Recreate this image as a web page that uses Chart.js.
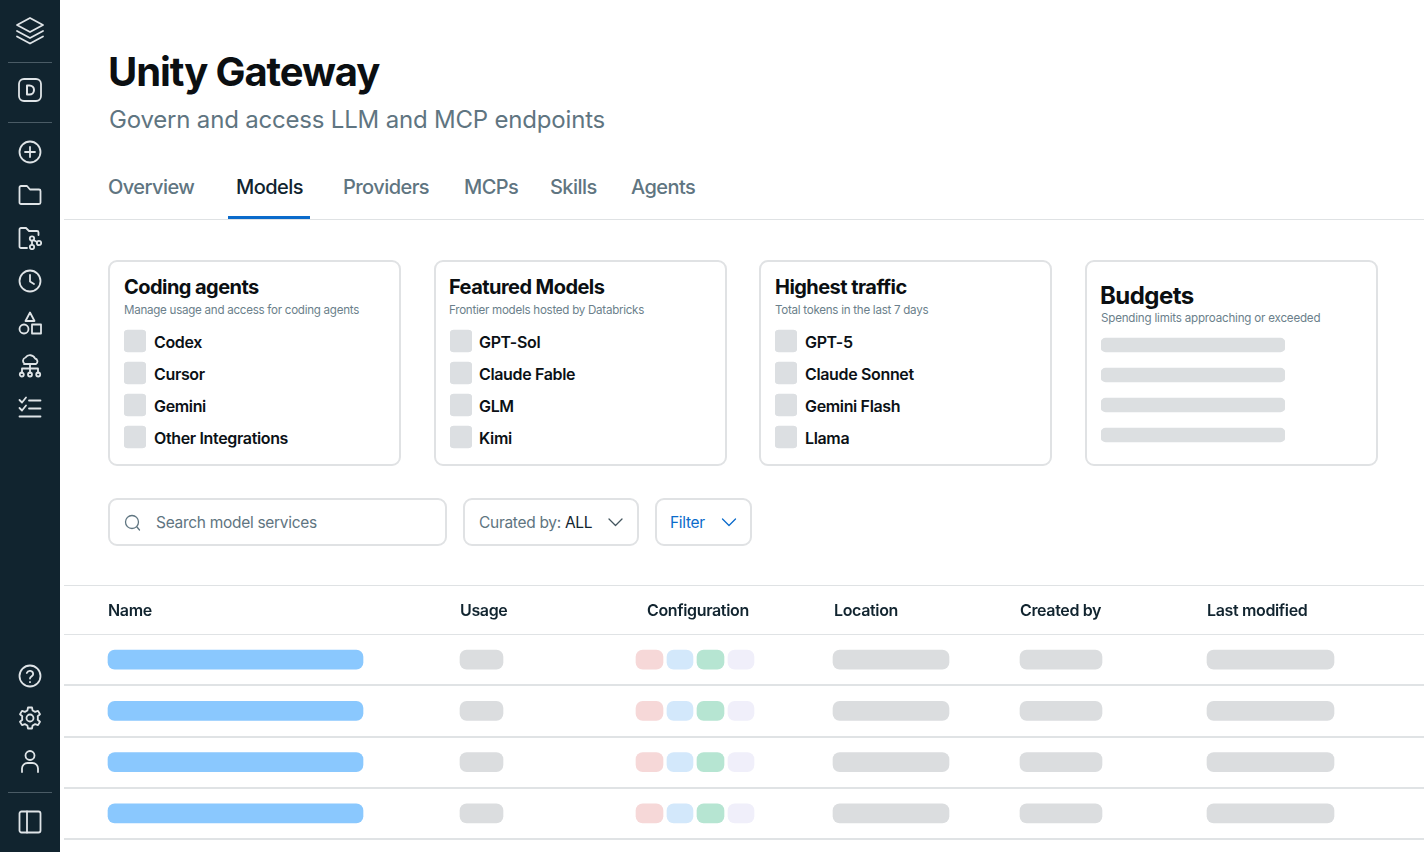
<!DOCTYPE html>
<html lang="en">
<head>
<meta charset="utf-8">
<title>Unity Gateway</title>
<script src="https://cdn.jsdelivr.net/npm/chart.js@4"></script>
<style>
    html, body { margin: 0; padding: 0; background: #fff; width: 1424px; height: 852px; overflow: hidden; }
    body { font-family: Inter, "Noto Sans", sans-serif; position: relative; color: #0b1116; }
    .t { position: absolute; white-space: nowrap; line-height: 1; transform: translateY(-50%); }
    canvas { position: absolute; display: block; }
    #side { position: absolute; left: 0; top: 0; width: 60px; height: 852px; background: #11242f; }
    .rule { position: absolute; left: 8px; width: 44px; height: 1px; background: #4a5b65; }
    .ico { position: absolute; left: 18px; width: 24px; height: 24px; fill: none; stroke: #dfe4e7; stroke-width: 1.8; stroke-linecap: round; stroke-linejoin: round; }
    .line { position: absolute; left: 64px; right: 0; background: #dfe2e4; }
    .box { position: absolute; box-sizing: border-box; border: 2px solid #e0e2e4; background: #fff; }
    .card { top: 260px; height: 206px; border-radius: 9px; }
    .field { top: 498px; height: 48px; border-radius: 9px; }
    .h1 { font-size: 40px; font-weight: 650; letter-spacing: -1.1px; color: #0b0f12; }
    .h2 { font-size: 24px; font-weight: 400; color: #5f7581; letter-spacing: -0.19px; }
    .tab { font-size: 20px; font-weight: 550; color: #5f7581; letter-spacing: -0.55px; }
    .tab.on { color: #11242f; }
    .ct { font-size: 20px; font-weight: 650; letter-spacing: -0.55px; color: #0b0f12; }
    .cs { font-size: 11.6px; font-weight: 400; color: #6b7f8b; letter-spacing: -0.27px; }
    .it { font-size: 16px; font-weight: 600; letter-spacing: -0.35px; color: #0b1116; }
    .inp { font-size: 15.5px; color: #5f7581; letter-spacing: -0.3px; }
    .th { font-size: 16px; font-weight: 600; letter-spacing: -0.35px; color: #11242f; }
</style>
</head>
<body>
<div id="side">
    <svg class="ico" style="top:16px;left:15px;width:30px;height:30px" viewBox="0 0 30 30"><path d="M15 2 28 9 15 16 2 9Z"/><path d="M2 15 15 22 28 15"/><path d="M2 20.500 15 27.500 28 20.500"/></svg>
    <div class="rule" style="top:62px"></div>
    <svg class="ico" style="top:78px" viewBox="0 0 24 24"><rect x="1" y="1" width="22" height="22" rx="5"/><path d="M9 7.500h2.500a4.500 4.500 0 0 1 0 9H9Z" stroke-width="2"/></svg>
    <div class="rule" style="top:122px"></div>
    <svg class="ico" style="top:140px" viewBox="0 0 24 24"><circle cx="12" cy="12" r="10.500"/><path d="M12 7v10M7 12h10"/></svg>
    <svg class="ico" style="top:183px" viewBox="0 0 24 24"><path d="M3 21a1.500 1.500 0 0 1-1.500-1.500v-15A1.500 1.500 0 0 1 3 3h6l3 3.500h9A1.500 1.500 0 0 1 22.500 8v11.500A1.500 1.500 0 0 1 21 21Z"/></svg>
    <svg class="ico" style="top:226px" viewBox="0 0 24 24"><path d="M9 22H3a1.500 1.500 0 0 1-1.500-1.500v-17A1.500 1.500 0 0 1 3 2h5l3 3h8a1.500 1.500 0 0 1 1.500 1.500V9"/><circle cx="14" cy="12.500" r="2.200"/><circle cx="14" cy="21" r="2.200"/><circle cx="21" cy="17" r="2.200"/><path d="M14 14.700v4M19 16l-3.500-2"/></svg>
    <svg class="ico" style="top:269px" viewBox="0 0 24 24"><circle cx="12" cy="12" r="10.500"/><path d="M12 6v6.500l4 2.500"/></svg>
    <svg class="ico" style="top:311px" viewBox="0 0 24 24"><path d="M12 1.500 16.500 10h-9Z"/><circle cx="6" cy="18" r="4.500"/><rect x="14" y="13.500" width="9" height="9"/></svg>
    <svg class="ico" style="top:354px" viewBox="0 0 24 24"><path d="M7 10a3.500 3.500 0 0 1 .5-6.500A5.500 5.500 0 0 1 17 4.500 3 3 0 0 1 18 10H6"/><path d="M12 10v9M4 19v-4.500h16V19"/><circle cx="3.800" cy="20.500" r="2"/><circle cx="12" cy="20.500" r="2"/><circle cx="20.200" cy="20.500" r="2"/></svg>
    <svg class="ico" style="top:396px" viewBox="0 0 24 24"><path d="M1.500 4 4 6.500 8 1.500M1.500 12 4 14.500 8 9.500M11 4.500h11.500M11 12.500h11.500M1.500 20.500h21"/></svg>
    <svg class="ico" style="top:664px" viewBox="0 0 24 24"><circle cx="12" cy="12" r="10.500"/><path d="M8.800 9a3.300 3.300 0 0 1 6.400 1c0 2.300-3.200 2.700-3.200 4.500M12 18v.2"/></svg>
    <svg class="ico" style="top:706px" viewBox="0 0 24 24"><circle cx="12" cy="12" r="3.500"/><path d="M10 1.500h4l.6 3 2.500 1.400 2.900-1 2 3.400-2.300 2a8 8 0 0 1 0 3.400l2.300 2-2 3.400-2.900-1-2.500 1.400-.6 3h-4l-.6-3-2.500-1.400-2.900 1-2-3.400 2.300-2a8 8 0 0 1 0-3.400l-2.300-2 2-3.400 2.900 1 2.500-1.400Z"/></svg>
    <svg class="ico" style="top:749px" viewBox="0 0 24 24"><circle cx="12" cy="6.500" r="4.500"/><path d="M4 23v-3.500A5.500 5.500 0 0 1 9.500 14h5a5.500 5.500 0 0 1 5.500 5.500V23"/></svg>
    <div class="rule" style="top:792px"></div>
    <svg class="ico" style="top:810px" viewBox="0 0 24 24"><rect x="1.500" y="1.500" width="21" height="21" rx="2"/><path d="M9 1.500v21"/></svg>
</div>
<div class="line" style="top:219px;height:1px"></div>
<div style="position:absolute;left:228px;top:216px;width:82px;height:3px;background:#0b6bcb"></div>
<div class="line" style="top:585px;height:1px"></div>

<script>
    const pageTitle = "Unity Gateway";
    const pageSubtitle = "Govern and access LLM and MCP endpoints";
    const tabs = ["Overview", "Models", "Providers", "MCPs", "Skills", "Agents"];
    const cardTitles = ["Coding agents", "Featured Models", "Highest traffic", "Budgets"];
    const cardNotes = ["Manage usage and access for coding agents", "Frontier models hosted by Databricks", "Total tokens in the last 7 days", "Spending limits approaching or exceeded"];
    const codingAgents = ["Codex", "Cursor", "Gemini", "Other Integrations"];
    const featuredModels = ["GPT-Sol", "Claude Fable", "GLM", "Kimi"];
    const highestTraffic = ["GPT-5", "Claude Sonnet", "Gemini Flash", "Llama"];
    const budgetRows = ["Budget 1", "Budget 2", "Budget 3", "Budget 4"];
    const budgetSpans = [[0, 100], [0, 100], [0, 100], [0, 100]];
    const swatchSpans = [[0, 100], [0, 100], [0, 100], [0, 100]];
    const columns = ["Name", "Usage", "Configuration", "Location", "Created by", "Last modified"];
    const tableRows = ["Row 1", "Row 2", "Row 3", "Row 4"];
    const nameSpans = [[108, 363], [108, 363], [108, 363], [108, 363]];
    const usageSpans = [[460, 503], [460, 503], [460, 503], [460, 503]];
    const configRed = [[636, 663], [636, 663], [636, 663], [636, 663]];
    const configBlue = [[667, 693], [667, 693], [667, 693], [667, 693]];
    const configGreen = [[697, 724], [697, 724], [697, 724], [697, 724]];
    const configPurple = [[728, 754], [728, 754], [728, 754], [728, 754]];
    const locationSpans = [[833, 949], [833, 949], [833, 949], [833, 949]];
    const createdSpans = [[1020, 1102], [1020, 1102], [1020, 1102], [1020, 1102]];
    const modifiedSpans = [[1207, 1334], [1207, 1334], [1207, 1334], [1207, 1334]];

    function addText(str, x, y, cls, style) {
        const el = document.createElement("div");
        el.className = "t " + cls;
        el.textContent = str;
        el.style.left = x + "px";
        el.style.top = y + "px";
        if (style) el.style.cssText += style;
        document.body.appendChild(el);
        return el;
    }

    function addBox(x, w, cls) {
        const el = document.createElement("div");
        el.className = "box " + cls;
        el.style.left = x + "px";
        el.style.width = w + "px";
        document.body.appendChild(el);
    }

    function addCanvas(x, y, w, h) {
        const c = document.createElement("canvas");
        c.style.left = x + "px";
        c.style.top = y + "px";
        c.style.width = w + "px";
        c.style.height = h + "px";
        c.width = w;
        c.height = h;
        document.body.appendChild(c);
        return c;
    }

    // small bar chart with no axes, used for the swatches and the budget bars
    function plainBars(canvas, labels, spans, color, thickness, radius) {
        new Chart(canvas, {
            type: "bar",
            data: { labels: labels, datasets: [{ data: spans, backgroundColor: color, barThickness: thickness, borderRadius: radius, borderSkipped: false }] },
            options: {
                indexAxis: "y",
                responsive: false,
                animation: false,
                devicePixelRatio: 1,
                events: [],
                layout: { padding: 0 },
                plugins: { legend: { display: false }, tooltip: { enabled: false } },
                scales: {
                    x: { display: false, min: 0, max: 100 },
                    y: { display: false }
                }
            }
        });
    }

    addText(pageTitle, 108, 72, "h1");
    addText(pageSubtitle, 109, 120, "h2");

    const tabLeft = [108, 236, 343, 464, 550, 631];
    tabs.forEach((name, i) => addText(name, tabLeft[i], 187, i === 1 ? "tab on" : "tab"));

    // top cards
    const cardLeft = [108, 433.5, 759, 1084.5];
    const cardWidth = [293, 293.5, 293, 293.5];
    const textLeft = [124, 449, 775, 1100];
    const swatchLeft = [124, 450, 775];
    const itemLeft = [154, 479, 805];
    const cardItems = [codingAgents, featuredModels, highestTraffic];
    cardTitles.forEach((title, i) => {
        addBox(cardLeft[i], cardWidth[i], "card");
        if (i === 3) {
            addText(title, textLeft[i], 296, "ct", "font-size:24px");
            addText(cardNotes[i], textLeft[i] + 1, 319, "cs", "letter-spacing:-0.2px");
        } else {
            addText(title, textLeft[i], 287, "ct");
            addText(cardNotes[i], textLeft[i], 311, "cs");
            cardItems[i].forEach((item, k) => addText(item, itemLeft[i], 342 + k * 32, "it"));
            plainBars(addCanvas(swatchLeft[i], 325, 22, 128), cardItems[i], swatchSpans, "#dcdfe2", 22, 4);
        }
    });
    plainBars(addCanvas(1101, 330, 184, 120), budgetRows, budgetSpans, "#dcdfe1", 14, 5);

    // search and filter controls
    addBox(108, 339, "field");
    addBox(463, 176, "field");
    addBox(655, 97, "field");
    addText("Search model services", 156, 523, "inp");
    const curated = addText("Curated by: ", 479, 523, "inp");
    const curatedValue = document.createElement("span");
    curatedValue.textContent = "ALL";
    curatedValue.style.color = "#11242f";
    curated.appendChild(curatedValue);
    addText("Filter", 670, 523, "inp", "color:#0b6bcb");

    const controls = document.createElementNS("http://www.w3.org/2000/svg", "svg");
    controls.setAttribute("width", "1424");
    controls.setAttribute("height", "852");
    controls.style.cssText = "position:absolute;left:0;top:0;pointer-events:none";
    controls.innerHTML = '<g fill="none" stroke-width="1.300" stroke-linecap="round" stroke-linejoin="round">' +
        '<circle cx="132" cy="522" r="6.500" stroke="#5f7581"/><path d="M137 527l2.500 3" stroke="#5f7581"/>' +
        '<path d="M609 519l6.500 6.500 6.500-6.500" stroke="#44565f"/>' +
        '<path d="M722.500 519l6.500 6.500 6.500-6.500" stroke="#0b6bcb"/></g>';
    document.body.appendChild(controls);

    const columnLeft = [108, 460, 647, 834, 1020, 1207];
    columns.forEach((name, i) => addText(name, columnLeft[i], 610, "th"));

    // table placeholders, x axis runs in page units so the columns line up with the header
    const tableSeries = [
        [nameSpans, "#8ac8fe"],
        [usageSpans, "#dbdddf"],
        [configRed, "#f6d8d8"],
        [configBlue, "#d3e8fb"],
        [configGreen, "#b6e5d2"],
        [configPurple, "#f0effa"],
        [locationSpans, "#dbdddf"],
        [createdSpans, "#dbdddf"],
        [modifiedSpans, "#dbdddf"]
    ];
    new Chart(addCanvas(64, 633, 1360, 207), {
        type: "bar",
        data: {
            labels: tableRows,
            datasets: tableSeries.map(s => ({
                data: s[0],
                backgroundColor: s[1],
                grouped: false,
                barThickness: 19,
                borderRadius: 7,
                borderSkipped: false
            }))
        },
        options: {
            indexAxis: "y",
            responsive: false,
            animation: false,
            devicePixelRatio: 1,
            events: [],
            layout: { padding: { top: 1, bottom: 1 } },
            plugins: { legend: { display: false }, tooltip: { enabled: false } },
            scales: {
                x: { display: false, min: 64, max: 1424 },
                y: {
                    border: { display: false },
                    ticks: { display: false },
                    grid: { color: "#e0e3e5", lineWidth: c => c.index === 0 ? 1 : 2, drawTicks: false }
                }
            }
        }
    });
</script>
</body>
</html>
